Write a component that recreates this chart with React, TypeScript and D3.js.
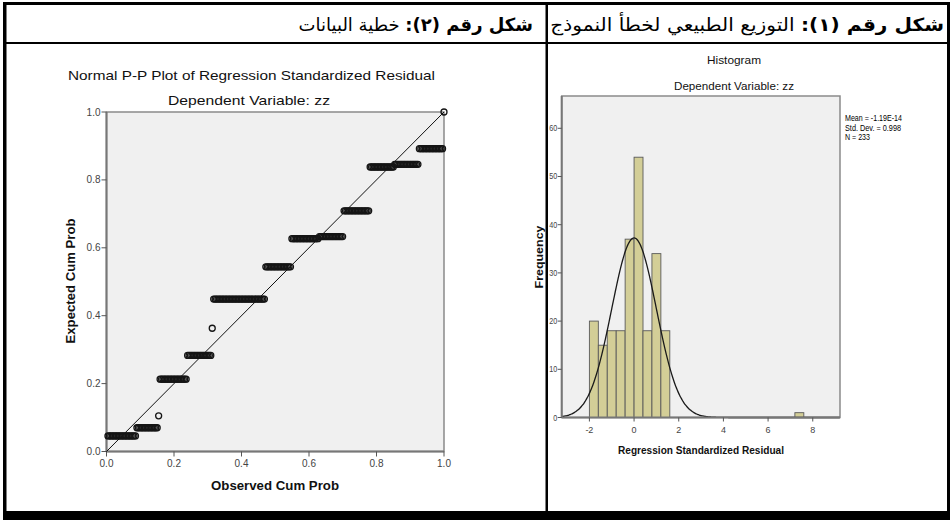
import * as d3 from 'd3';

// P-P plot: expected cum prob of each step and how many cases sit on it
const ppExpected = [0.046, 0.07, 0.105, 0.213, 0.283, 0.363, 0.449, 0.544, 0.627, 0.633, 0.709, 0.838, 0.846, 0.892, 1.0];
const ppCounts = [20, 15, 1, 19, 17, 1, 36, 18, 19, 17, 18, 17, 17, 17, 1];
const ppTicks = [0, 0.2, 0.4, 0.6, 0.8, 1.0];

// histogram of residuals (bin width 0.4)
const histBinStart = [-2.0, -1.6, -1.2, -0.8, -0.4, 0.0, 0.4, 0.8, 1.2, 7.2];
const histFreq = [20, 15, 18, 18, 37, 54, 18, 34, 18, 1];
const histXTicks = [-2, 0, 2, 4, 6, 8];
const histYTicks = [0, 10, 20, 30, 40, 50, 60];
const histStats = ['Mean = -1.19E-14', 'Std. Dev. = 0.998', 'N = 233'];
const statMean = 0;
const statSd = 0.998;
const binWidth = 0.4;

const SANS = "'Liberation Sans', Arial, sans-serif";
const AR = "'DejaVu Sans', 'Liberation Serif', serif";

function PPPlot() {
  const x = d3.scaleLinear().domain([0, 1]).range([106.5, 444]);
  const y = d3.scaleLinear().domain([0, 1]).range([451.5, 112]);
  const n = d3.sum(ppCounts);
  const pts: { obs: number; exp: number }[] = [];
  let rank = 0;
  ppCounts.forEach((c, i) => {
    for (let j = 0; j < c; j++) {
      rank++;
      pts.push({ obs: rank / n, exp: ppExpected[i] });
    }
  });
  const fmt = d3.format('.1f');
  const [x0, x1] = x.range();
  const [y0, y1] = y.range();

  return (
    <g>
      <text x={251.5} y={80} textAnchor="middle" fontFamily={SANS} fontSize={13} fill="#111"
        textLength={367} lengthAdjust="spacingAndGlyphs">
        Normal P-P Plot of Regression Standardized Residual
      </text>
      <text x={249} y={105} textAnchor="middle" fontFamily={SANS} fontSize={13} fill="#111"
        textLength={162} lengthAdjust="spacingAndGlyphs">
        Dependent Variable: zz
      </text>
      <rect x={x0} y={y1} width={x1 - x0} height={y0 - y1} fill="#f0f0f0" stroke="#8a8a8a" strokeWidth={1.5} />
      <line x1={x0} x2={x0} y1={y1} y2={y0} stroke="#777" strokeWidth={2} />
      <line x1={x0} x2={x1} y1={y0} y2={y0} stroke="#777" strokeWidth={2} />
      {ppTicks.map((t) => (
        <g key={'y' + t}>
          <line x1={x0 - 5} x2={x0} y1={y(t)} y2={y(t)} stroke="#555" strokeWidth={1} />
          <text x={x0 - 6} y={y(t) + 3.5} textAnchor="end" fontFamily={SANS} fontSize={10} fill="#444">{fmt(t)}</text>
        </g>
      ))}
      {ppTicks.map((t) => (
        <g key={'x' + t}>
          <line x1={x(t)} x2={x(t)} y1={y0} y2={y0 + 5} stroke="#555" strokeWidth={1} />
          <text x={x(t)} y={467} textAnchor="middle" fontFamily={SANS} fontSize={10} fill="#444">{fmt(t)}</text>
        </g>
      ))}
      <line x1={x(0)} y1={y(0)} x2={x(1)} y2={y(1)} stroke="#111" strokeWidth={1} />
      {pts.map((p, i) => (
        <circle key={i} cx={x(p.obs)} cy={y(p.exp)} r={3} fill="none" stroke="#151515" strokeWidth={1.3} />
      ))}
      <text x={275} y={490} textAnchor="middle" fontFamily={SANS} fontSize={12} fontWeight="bold" fill="#111"
        textLength={128} lengthAdjust="spacingAndGlyphs">
        Observed Cum Prob
      </text>
      <text transform="translate(75,281) rotate(-90)" textAnchor="middle" fontFamily={SANS} fontSize={12}
        fontWeight="bold" fill="#111" textLength={125} lengthAdjust="spacingAndGlyphs">
        Expected Cum Prob
      </text>
    </g>
  );
}

function Histogram() {
  const x = d3.scaleLinear().domain([-3.24, 9.22]).range([561.7, 840]);
  const y = d3.scaleLinear().domain([0, 66.7]).range([417.5, 96]);
  const [x0, x1] = x.range();
  const [y0, y1] = y.range();
  const n = d3.sum(histFreq);
  const dens = (v: number) =>
    (n * binWidth * Math.exp(-0.5 * ((v - statMean) / statSd) ** 2)) / (statSd * Math.sqrt(2 * Math.PI));
  const curvePts = d3.range(-3.24, 9.22, 0.04);
  const curve = d3
    .line<number>()
    .x((v) => x(v))
    .y((v) => y(dens(v)))
    .curve(d3.curveBasis)(curvePts);

  return (
    <g>
      <text x={734} y={64} textAnchor="middle" fontFamily={SANS} fontSize={11} fill="#111"
        textLength={54} lengthAdjust="spacingAndGlyphs">
        Histogram
      </text>
      <text x={734} y={90} textAnchor="middle" fontFamily={SANS} fontSize={11} fill="#111"
        textLength={120} lengthAdjust="spacingAndGlyphs">
        Dependent Variable: zz
      </text>
      <rect x={x0} y={y1} width={x1 - x0} height={y0 - y1} fill="#f0f0f0" stroke="#8a8a8a" strokeWidth={1.5} />
      {histBinStart.map((b, i) => (
        <rect key={i} x={x(b)} y={y(histFreq[i])} width={x(b + binWidth) - x(b)} height={y(0) - y(histFreq[i])}
          fill="#d3ce97" stroke="#5a5a5a" strokeWidth={0.9} />
      ))}
      <path d={curve || ''} fill="none" stroke="#1a1a1a" strokeWidth={1.3} />
      <line x1={x0} x2={x0} y1={y1} y2={y0} stroke="#777" strokeWidth={2} />
      <line x1={x0} x2={x1} y1={y0} y2={y0} stroke="#777" strokeWidth={2} />
      {histYTicks.map((t) => (
        <g key={'y' + t}>
          <line x1={x0 - 4} x2={x0} y1={y(t)} y2={y(t)} stroke="#555" strokeWidth={1} />
          <text x={x0 - 4.5} y={y(t) + 3} textAnchor="end" fontFamily={SANS} fontSize={9} fill="#444"
            textLength={t === 0 ? 4 : 8} lengthAdjust="spacingAndGlyphs">{t}</text>
        </g>
      ))}
      {histXTicks.map((t) => (
        <g key={'x' + t}>
          <line x1={x(t)} x2={x(t)} y1={y0} y2={y0 + 4} stroke="#555" strokeWidth={1} />
          <text x={x(t)} y={433} textAnchor="middle" fontFamily={SANS} fontSize={9} fill="#444">{t}</text>
        </g>
      ))}
      {histStats.map((s, i) => (
        <text key={s} x={845} y={121 + i * 9.5} fontFamily={SANS} fontSize={9} fill="#000"
          textLength={[57, 56, 25][i]} lengthAdjust="spacingAndGlyphs">{s}</text>
      ))}
      <text x={701} y={454} textAnchor="middle" fontFamily={SANS} fontSize={11} fontWeight="bold" fill="#111"
        textLength={166} lengthAdjust="spacingAndGlyphs">
        Regression Standardized Residual
      </text>
      <text transform="translate(543,257) rotate(-90)" textAnchor="middle" fontFamily={SANS} fontSize={11}
        fontWeight="bold" fill="#111" textLength={63} lengthAdjust="spacingAndGlyphs">
        Frequency
      </text>
    </g>
  );
}

export default function App() {
  return (
    <svg width={952} height={520} style={{ position: 'absolute', left: 0, top: 0, background: '#fff' }}>
      <rect x={0} y={0} width={952} height={520} fill="#fff" />
      <PPPlot />
      <Histogram />
      {/* table borders */}
      <rect x={3} y={2} width={946} height={3} fill="#000" />
      <rect x={3} y={42} width={946} height={2} fill="#000" />
      <rect x={3} y={2} width={3.5} height={518} fill="#000" />
      <rect x={947} y={2} width={3} height={518} fill="#000" />
      <rect x={545.5} y={2} width={2.5} height={518} fill="#000" />
      <rect x={3} y={511} width={947} height={9} fill="#000" />
      <text x={533} y={31} direction="rtl" textAnchor="start" fontFamily={AR} fontSize={18} fill="#000">
        <tspan fontWeight="bold">شكل رقم (٢):</tspan> خطية البيانات
      </text>
      <g transform="translate(944,31) scale(1.12,1)">
        <text x={0} y={0} direction="rtl" textAnchor="start" fontFamily={AR} fontSize={18} fill="#000">
          <tspan fontWeight="bold">شكل رقم (١):</tspan> التوزيع الطبيعي لخطأ النموذج
        </text>
      </g>
    </svg>
  );
}
